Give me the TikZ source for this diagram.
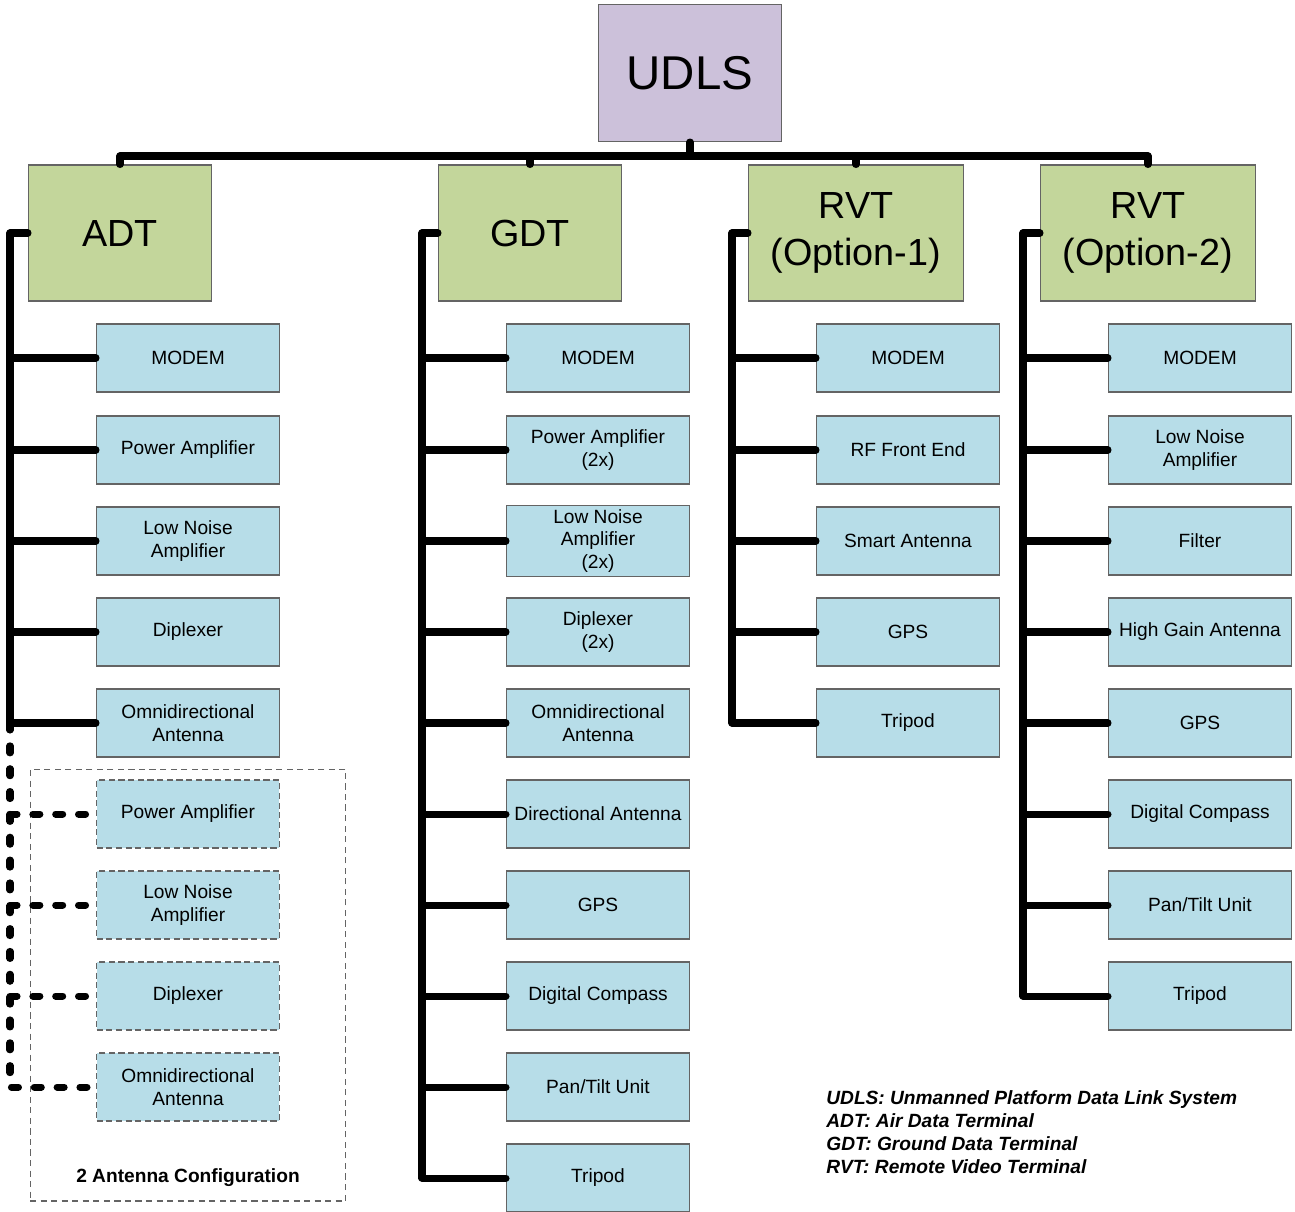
\documentclass[tikz,border=0pt]{standalone}
\usepackage{fontspec}
\setmainfont{Liberation Sans}
\usepackage{tikz}
\usetikzlibrary{positioning}
\definecolor{lilasUDLS}{RGB}{204,193,218}
\definecolor{vertTerminal}{RGB}{195,214,155}
\definecolor{bleuBloc}{RGB}{183,221,232}
\definecolor{grisBord}{RGB}{100,100,100}

\begin{document}
\begin{tikzpicture}[x=0.02cm, y=-0.02cm,
  bloc/.style={draw=grisBord, line width=0.6pt, fill=bleuBloc, minimum width=3.66cm,
               minimum height=1.36cm, align=center, inner sep=2pt,
               font=\fontsize{10.9}{13}\selectfont},
  blocopt/.style={bloc, dash pattern=on 3.5pt off 2pt},
  terminal/.style={draw=grisBord, line width=0.6pt, fill=vertTerminal, minimum height=2.72cm,
                   align=center, font=\fontsize{21.5}{27}\selectfont},
  lien/.style={line width=4pt, line cap=round, line join=round},
  lienopt/.style={lien, dash pattern=on 4pt off 9pt}]

\useasboundingbox (0,0) rectangle (1295,1211);

\node[draw=grisBord, line width=0.6pt, fill=lilasUDLS, minimum width=3.66cm, minimum height=2.74cm,
      font=\fontsize{27}{32}\selectfont] (udls) at (690,73) {UDLS};

\node[terminal, minimum width=3.66cm] (adt) at (120,233) {ADT};
\node[terminal, minimum width=3.66cm] (gdt) at (530,233) {GDT};
\node[terminal, minimum width=4.3cm] (rvta) at (856,233) {RVT\\(Option-1)};
\node[terminal, minimum width=4.3cm] (rvtb) at (1148,233) {RVT\\(Option-2)};

\node[draw=grisBord, line width=0.6pt, dash pattern=on 3.5pt off 2.5pt,
      minimum width=6.32cm, minimum height=8.64cm] (groupe) at (188,985) {};
\node[font=\bfseries\fontsize{10.9}{13}\selectfont] (config) at (188,1178) {2 Antenna Configuration};

\node[bloc] (adt1) at (188,358) {MODEM};
\node[bloc] (adt2) at (188,450) {Power Amplifier};
\node[bloc] (adt3) at (188,541) {Low Noise\\Amplifier};
\node[bloc] (adt4) at (188,632) {Diplexer};
\node[bloc] (adt5) at (188,723) {Omnidirectional\\Antenna};
\node[blocopt] (adt6) at (188,814) {Power Amplifier};
\node[blocopt] (adt7) at (188,905) {Low Noise\\Amplifier};
\node[blocopt] (adt8) at (188,996) {Diplexer};
\node[blocopt] (adt9) at (188,1087) {Omnidirectional\\Antenna};

\node[bloc] (gdt1) at (598,358) {MODEM};
\node[bloc] (gdt2) at (598,450) {Power Amplifier\\(2x)};
\node[bloc] (gdt3) at (598,541) {Low Noise\\Amplifier\\(2x)};
\node[bloc] (gdt4) at (598,632) {Diplexer\\(2x)};
\node[bloc] (gdt5) at (598,723) {Omnidirectional\\Antenna};
\node[bloc] (gdt6) at (598,814) {Directional Antenna};
\node[bloc] (gdt7) at (598,905) {GPS};
\node[bloc] (gdt8) at (598,996) {Digital Compass};
\node[bloc] (gdt9) at (598,1087) {Pan/Tilt Unit};
\node[bloc] (gdt10) at (598,1178) {Tripod};

\node[bloc] (rvta1) at (908,358) {MODEM};
\node[bloc] (rvta2) at (908,450) {RF Front End};
\node[bloc] (rvta3) at (908,541) {Smart Antenna};
\node[bloc] (rvta4) at (908,632) {GPS};
\node[bloc] (rvta5) at (908,723) {Tripod};

\node[bloc] (rvtb1) at (1200,358) {MODEM};
\node[bloc] (rvtb2) at (1200,450) {Low Noise\\Amplifier};
\node[bloc] (rvtb3) at (1200,541) {Filter};
\node[bloc] (rvtb4) at (1200,632) {High Gain Antenna};
\node[bloc] (rvtb5) at (1200,723) {GPS};
\node[bloc] (rvtb6) at (1200,814) {Digital Compass};
\node[bloc] (rvtb7) at (1200,905) {Pan/Tilt Unit};
\node[bloc] (rvtb8) at (1200,996) {Tripod};

\coordinate (bus) at (0,156);
\coordinate (tadt) at (10,0);
\coordinate (tgdt) at (422,0);
\coordinate (trvta) at (732,0);
\coordinate (trvtb) at (1023,0);

\draw[lien] (udls.south) -- (udls.south |- bus);
\draw[lien] (adt.north) -- (adt.north |- bus) -- (rvtb.north |- bus) -- (rvtb.north);
\draw[lien] (gdt.north) -- (gdt.north |- bus);
\draw[lien] (rvta.north) -- (rvta.north |- bus);

\draw[lien] (adt.west) -| (tadt |- adt5.west) -- (adt5.west);
\foreach \i in {1,...,4} \draw[lien] (adt\i.west) -- (adt\i.west -| tadt);
\draw[lienopt] (tadt |- adt5.west) -- (tadt |- adt9.west) -- (adt9.west);
\foreach \i in {6,7,8} \draw[lienopt] (adt\i.west -| tadt) -- (adt\i.west);

\draw[lien] (gdt.west) -| (tgdt |- gdt10.west) -- (gdt10.west);
\foreach \i in {1,...,9} \draw[lien] (gdt\i.west) -- (gdt\i.west -| tgdt);

\draw[lien] (rvta.west) -| (trvta |- rvta5.west) -- (rvta5.west);
\foreach \i in {1,...,4} \draw[lien] (rvta\i.west) -- (rvta\i.west -| trvta);

\draw[lien] (rvtb.west) -| (trvtb |- rvtb8.west) -- (rvtb8.west);
\foreach \i in {1,...,7} \draw[lien] (rvtb\i.west) -- (rvtb\i.west -| trvtb);

\node[anchor=west, align=left, inner sep=0pt, font=\bfseries\itshape\fontsize{10.9}{13}\selectfont]
  (legende) at (826,1132) {UDLS: Unmanned Platform Data Link System\\ADT: Air Data Terminal\\GDT: Ground Data Terminal\\RVT: Remote Video Terminal};

\end{tikzpicture}
\end{document}
